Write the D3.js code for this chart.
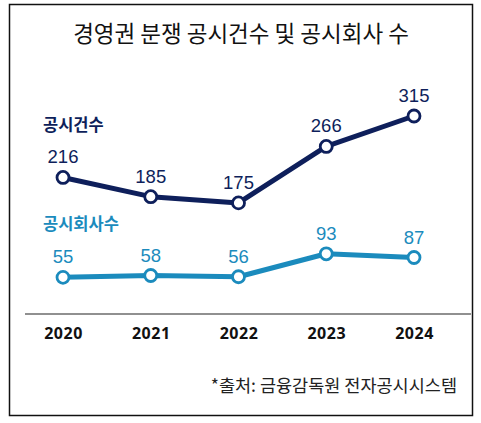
<!DOCTYPE html>
<html>
<head>
<meta charset="utf-8">
<script src="https://cdn.jsdelivr.net/npm/d3@7"></script>
<style>
  body { margin: 0; background: #fff; }
  svg { display: block; font-family: "Noto Sans CJK KR", "Noto Sans", sans-serif; }
</style>
</head>
<body>
<svg id="chart" width="481" height="423"></svg>
<script>
const years = ['2020', '2021', '2022', '2023', '2024'];
const filings = [216, 185, 175, 266, 315];   // 공시건수
const companies = [55, 58, 56, 93, 87];      // 공시회사수

const navy = '#0e1f5b';
const teal = '#1b8bbd';

const svg = d3.select('#chart');

// frame
svg.append('rect')
    .attr('x', 9.5).attr('y', 4.5)
    .attr('width', 463).attr('height', 411)
    .attr('fill', '#fff')
    .attr('stroke', '#111')
    .attr('stroke-width', 1.5);

svg.append('text')
    .attr('x', 241).attr('y', 42)
    .attr('text-anchor', 'middle')
    .attr('font-size', 22.5)
    .attr('fill', '#111')
    .text('경영권 분쟁 공시건수 및 공시회사 수');

const xScale = d3.scalePoint()
    .domain(years)
    .range([63, 414]);

const yScale = d3.scaleLinear()
    .domain([0, 315])
    .range([311.5, 116]);

// baseline + year labels
const xAxis = d3.axisBottom(xScale).tickSize(0).tickPadding(14);
const xAxisG = svg.append('g')
    .attr('transform', 'translate(0,314)')
    .call(xAxis);
xAxisG.select('.domain').remove();
xAxisG.append('line')
    .attr('x1', 25).attr('x2', 471)
    .attr('stroke', '#222').attr('stroke-width', 1.2);
xAxisG.selectAll('.tick text')
    .attr('font-size', 16)
    .attr('font-weight', 'bold')
    .attr('font-family', '"Noto Sans", sans-serif')
    .attr('letter-spacing', 0.5)
    .attr('fill', '#111');

const line = d3.line()
    .x((d, i) => xScale(years[i]))
    .y(d => yScale(d));

const drawSeries = (values, color, name, nameY) => {
    svg.append('path')
        .datum(values)
        .attr('d', line)
        .attr('fill', 'none')
        .attr('stroke', color)
        .attr('stroke-width', 5)
        .attr('stroke-linejoin', 'round');

    svg.selectAll(null)
        .data(values)
        .enter()
        .append('circle')
            .attr('cx', (d, i) => xScale(years[i]))
            .attr('cy', d => yScale(d))
            .attr('r', 6)
            .attr('fill', '#fff')
            .attr('stroke', color)
            .attr('stroke-width', 2.8);

    svg.selectAll(null)
        .data(values)
        .enter()
        .append('text')
            .attr('x', (d, i) => xScale(years[i]))
            .attr('y', d => yScale(d) - 14)
            .attr('text-anchor', 'middle')
            .attr('font-size', 18.5)
            .attr('font-family', '"Liberation Sans", Arial, sans-serif')
            .attr('fill', color)
            .text(d => d);

    svg.append('text')
        .attr('x', 43).attr('y', nameY)
        .attr('font-size', 16.5)
        .attr('font-weight', 'bold')
        .attr('fill', color)
        .text(name);
};

drawSeries(filings, navy, '공시건수', 131);
drawSeries(companies, teal, '공시회사수', 230);

svg.append('text')
    .attr('x', 457).attr('y', 392)
    .attr('text-anchor', 'end')
    .attr('font-size', 17.5)
    .attr('fill', '#222')
    .text('*출처: 금융감독원 전자공시시스템');
</script>
</body>
</html>
